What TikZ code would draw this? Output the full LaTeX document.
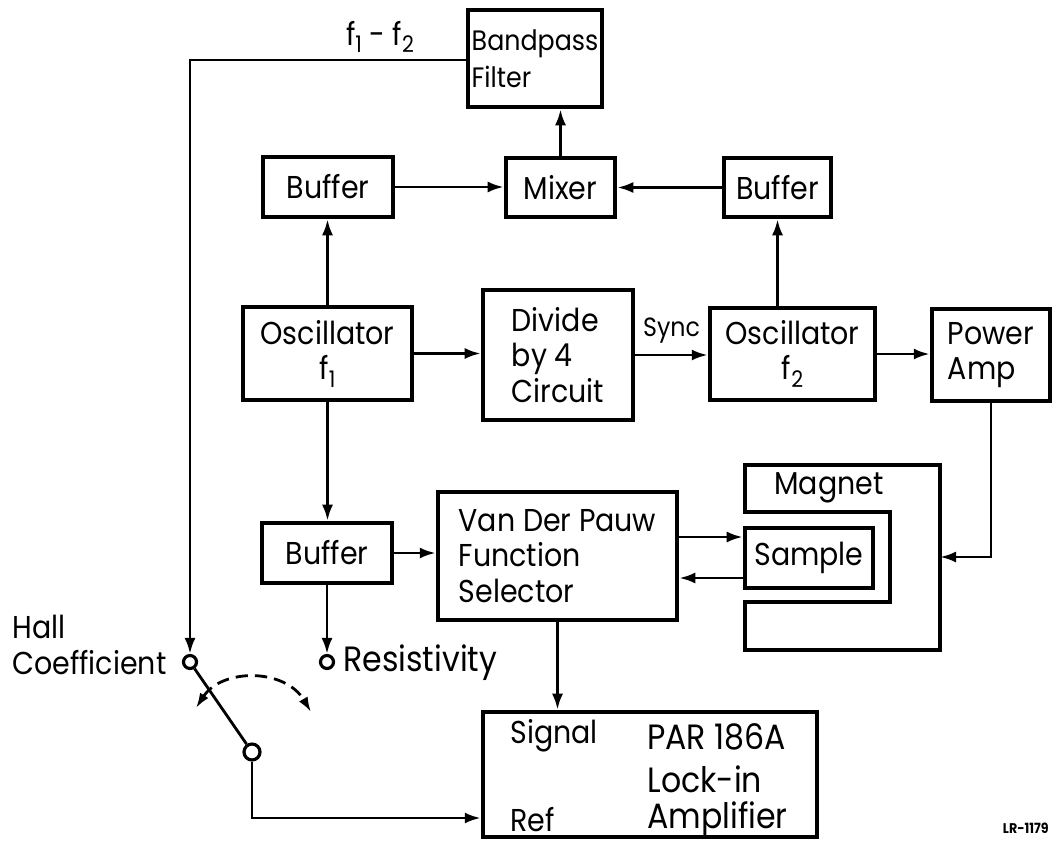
\documentclass[tikz,border=0pt]{standalone}
\usepackage{fontspec}
\setmainfont{Poppins}[FakeStretch=0.9]
\usetikzlibrary{arrows.meta}
\newcommand{\lowsub}[1]{\raisebox{-0.45ex}{\fontsize{13}{13}\selectfont #1}}
\begin{document}
\begin{tikzpicture}[x=0.02cm,y=-0.02cm,
  box/.style={draw, line width=2.6pt, inner sep=0pt, font=\fontsize{18}{20}\selectfont},
  lbl/.style={inner sep=0pt, font=\fontsize{18}{20}\selectfont},
  big/.style={inner sep=0pt, font=\fontsize{20}{22}\selectfont},
  conn/.style={line width=1.6pt},
  arr/.style={conn, -{Latex[length=3.2mm,width=2.2mm]}},
  term/.style={circle, draw, line width=1.8pt, inner sep=0pt, fill=white}]
\useasboundingbox (0,0) rectangle (1053,841);

% boxes
\node[box, minimum width=2.68cm, minimum height=1.94cm, align=left, font=\fontsize{16}{21}\selectfont] (bp) at (535,58.5) {Bandpass\\Filter};
\node[box, minimum width=2.6cm, minimum height=1.2cm] (bufL) at (328,187) {Buffer};
\node[box, minimum width=2.18cm, minimum height=1.18cm] (mix) at (560.5,187.5) {Mixer};
\node[box, minimum width=2.14cm, minimum height=1.18cm] (bufR) at (777.5,187.5) {Buffer};
\node[box, minimum width=3.38cm, minimum height=1.86cm, align=center] (osc1) at (327.5,353.5) {Oscillator\\f\lowsub{1}};
\node[box, minimum width=3.0cm, minimum height=2.6cm, align=left] (div) at (558,355) {Divide\\by 4\\Circuit};
\node[box, minimum width=3.3cm, minimum height=1.84cm, align=center] (osc2) at (792.5,354) {Oscillator\\f\lowsub{2}};
\node[box, minimum width=2.36cm, minimum height=1.84cm, align=left] (pamp) at (991,355) {Power\\Amp};
\node[box, minimum width=2.6cm, minimum height=1.2cm] (bufB) at (327,553) {Buffer};
\node[box, minimum width=4.78cm, minimum height=2.56cm, align=left] (vdp) at (557.5,556) {Van Der Pauw\\Function\\Selector};
\node[box, minimum width=6.68cm, minimum height=2.5cm] (lock) at (650,774.5) {};

% magnet
\draw[line width=2.6pt, line join=miter] (745,465) -- (940,465) -- (940,650) -- (745,650) -- (745,602) -- (890,602) -- (890,512) -- (745,512) -- cycle;
\coordinate (magR) at (940,557);
\node[lbl] (magl) at (829,488) {Magnet};
\node[box, minimum width=2.56cm, minimum height=1.2cm] (samp) at (809,558) {Sample};

% lock-in texts
\node[lbl, anchor=west] (sig) at (510,736) {Signal};
\node[lbl, anchor=west] (ref) at (510,820) {Ref};
\node[big, anchor=west] (par) at (647,737) {PAR 186A};
\node[big, anchor=west] (lck) at (647,779) {Lock-in};
\node[big, anchor=west] (amp) at (647,820) {Amplifier};

% terminals
\node[term, minimum size=0.26cm] (thall) at (190,662) {};
\node[term, minimum size=0.26cm] (tres) at (327,662) {};
\node[term, minimum size=0.32cm] (pivot) at (252,752) {};
\node[lbl, anchor=west] (hall) at (12,627) {Hall};
\node[lbl, anchor=west] (coef) at (12,663) {Coefficient};
\node[big, anchor=west] (resl) at (343,663) {Resistivity};
\node[lbl] (fdiff) at (380,37) {f\lowsub{1} - f\lowsub{2}};

% connectors
\draw[arr] (mix.north) -- (mix.north |- bp.south);
\draw[arr] (bufL.east) -- (bufL.east -| mix.west);
\draw[arr] (bufR.west) -- (bufR.west -| mix.east);
\draw[arr] (osc1.north) -- (osc1.north |- bufL.south);
\draw[arr] (bufR.south |- osc2.north) -- (bufR.south);
\draw[arr] (osc1.east) -- (osc1.east -| div.west);
\draw[arr] (div.east) -- (div.east -| osc2.west) node[midway, above=6pt, lbl, font=\fontsize{15}{17}\selectfont] (sync) {Sync};
\draw[arr] (osc2.east) -- (osc2.east -| pamp.west);
\draw[arr] (pamp.south) |- (magR);
\draw[arr] (osc1.south) -- (osc1.south |- bufB.north);
\draw[arr] (bufB.east) -- (bufB.east -| vdp.west);
\draw[arr] ([yshift=0.38cm]vdp.east) -- ([yshift=0.38cm]vdp.east -| samp.west);
\draw[arr] ([yshift=-0.4cm]samp.west) -- ([yshift=-0.4cm]samp.west -| vdp.east);
\draw[arr] (bufB.south) -- (tres.north);
\draw[arr] (vdp.south) -- (vdp.south |- lock.north);
\draw[arr] ([yshift=-0.03cm]bp.west) -| (thall.north);
\draw[conn] (thall) -- (pivot);
\draw[arr] (pivot.south) |- ([yshift=-0.87cm]lock.west);
\draw[conn, dash pattern=on 7pt off 4pt, {Latex[length=3mm,width=2mm]}-{Latex[length=3mm,width=2mm]}] (196,708) .. controls (222,668) and (285,668) .. (311,712);

\node[inner sep=0pt, anchor=east, font=\fontsize{8}{9}\selectfont\bfseries] (lr) at (1049,828) {LR-1179};
\end{tikzpicture}
\end{document}
